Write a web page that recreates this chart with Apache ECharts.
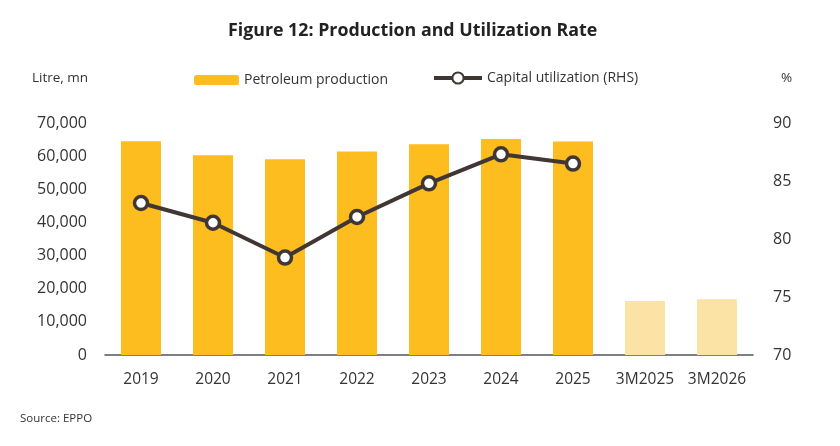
<!DOCTYPE html>
<html><head><meta charset="utf-8">
<script src="https://cdn.jsdelivr.net/npm/echarts@6/dist/echarts.min.js"></script>
<style>html,body{margin:0;padding:0;background:#fff}#c{width:840px;height:446px}</style>
</head><body><div id="c"></div>
<script>
var categories = ['2019','2020','2021','2022','2023','2024','2025','3M2025','3M2026'];
var production = [64500, 60300, 59100, 61400, 63600, 65200, 64400, 16300, 16800];
var utilization = [83.1, 81.4, 78.4, 81.9, 84.8, 87.3, 86.5, null, null];
var partialCategories = ['3M2025','3M2026'];

var FONT = '"Open Sans", "Noto Sans", sans-serif';
var chart = echarts.init(document.getElementById('c'));
chart.setOption({
  backgroundColor: '#ffffff',
  animation: false,
  textStyle: { fontFamily: FONT },
  title: [
    { text: 'Figure 12: Production and Utilization Rate', left: 223, top: 17,
      textStyle: { fontSize: 17.8, fontWeight: 'bold', color: '#222', fontFamily: FONT } },
    { text: 'Litre, mn', left: 27, top: 66, textStyle: { fontSize: 13.5, fontWeight: 'normal', color: '#333', fontFamily: FONT } },
    { text: '%', left: 776, top: 66, textStyle: { fontSize: 13.5, fontWeight: 'normal', color: '#333', fontFamily: FONT } },
    { text: 'Source: EPPO', left: 15, top: 408, textStyle: { fontSize: 11.5, fontWeight: 'normal', color: '#333', fontFamily: FONT } }
  ],
  legend: [
    { data: ['Petroleum production'], left: 194, top: 73, padding: 0, itemWidth: 45, itemHeight: 10, itemGap: 6,
      textStyle: { fontSize: 14, color: '#333', fontFamily: FONT } },
    { data: ['Capital utilization (RHS)'], left: 432, top: 71, padding: 0, itemWidth: 48, itemHeight: 14, itemGap: 3,
      lineStyle: { width: 4 },
      textStyle: { fontSize: 14, color: '#333', fontFamily: FONT } }
  ],
  grid: { left: 105, right: 87, top: 123, bottom: 91, containLabel: false },
  xAxis: {
    type: 'category', data: categories,
    axisLine: { lineStyle: { color: '#555', width: 1.5 } },
    axisTick: { show: false },
    axisLabel: { fontSize: 15.5, color: '#333', margin: 17, interval: 0, fontFamily: FONT }
  },
  yAxis: [
    { type: 'value', min: 0, max: 70000, interval: 10000, splitLine: { show: false },
      axisLine: { show: false }, axisTick: { show: false },
      axisLabel: { fontSize: 16, color: '#333', margin: 18, fontFamily: FONT,
        formatter: function (v) { return v.toLocaleString('en-US'); } } },
    { type: 'value', min: 70, max: 90, interval: 5, splitLine: { show: false },
      axisLine: { show: false }, axisTick: { show: false },
      axisLabel: { fontSize: 16, color: '#333', margin: 20, fontFamily: FONT } }
  ],
  series: [
    { name: 'Petroleum production', type: 'bar', yAxisIndex: 0, barWidth: 40,
      itemStyle: { color: '#FDBD1F' },
      data: production.map(function (v, i) {
        return partialCategories.indexOf(categories[i]) >= 0 ? { value: v, itemStyle: { color: '#FBE3A6' } } : v;
      }) },
    { name: 'Capital utilization (RHS)', type: 'line', yAxisIndex: 1, data: utilization,
      symbol: 'circle', symbolSize: 13, showAllSymbol: true,
      lineStyle: { color: '#403634', width: 4 },
      itemStyle: { color: '#ffffff', borderColor: '#403634', borderWidth: 3.5 } }
  ]
});
</script></body></html>
